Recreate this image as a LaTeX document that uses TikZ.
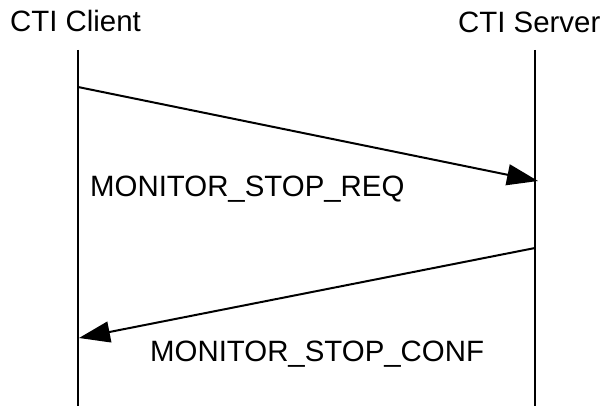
\documentclass[tikz,border=0pt]{standalone}
\usepackage{fontspec}
\setmainfont{Liberation Sans}
\usetikzlibrary{arrows.meta}
\begin{document}
\begin{tikzpicture}[x=1pt,y=-1pt,
  lbl/.style={inner sep=0pt, anchor=base west, font=\fontsize{29.4}{35}\selectfont},
  life/.style={line width=2pt},
  msg/.style={line width=2pt, -{Triangle[length=31pt,width=21pt]}}]
\useasboundingbox (0,0) rectangle (603,406);
% titles
\node[lbl] (client) at (10,32) {CTI Client};
\node[lbl] (server) at (458,33) {CTI Server};
% lifelines
\coordinate (ctop) at (78,50);
\coordinate (cbot) at (78,406);
\coordinate (stop) at (535,50);
\coordinate (sbot) at (535,406);
\draw[life] (ctop) -- (cbot);
\draw[life] (stop) -- (sbot);
% messages
\coordinate (m1s) at (78,87);
\coordinate (m1e) at (538,181);
\coordinate (m2s) at (535,248);
\coordinate (m2e) at (79,338);
\draw[msg] (m1s) -- (m1e);
\draw[msg] (m2s) -- (m2e);
\node[lbl] (req) at (90,197) {MONITOR\_STOP\_REQ};
\node[lbl] (conf) at (150,362) {MONITOR\_STOP\_CONF};
\end{tikzpicture}
\end{document}
